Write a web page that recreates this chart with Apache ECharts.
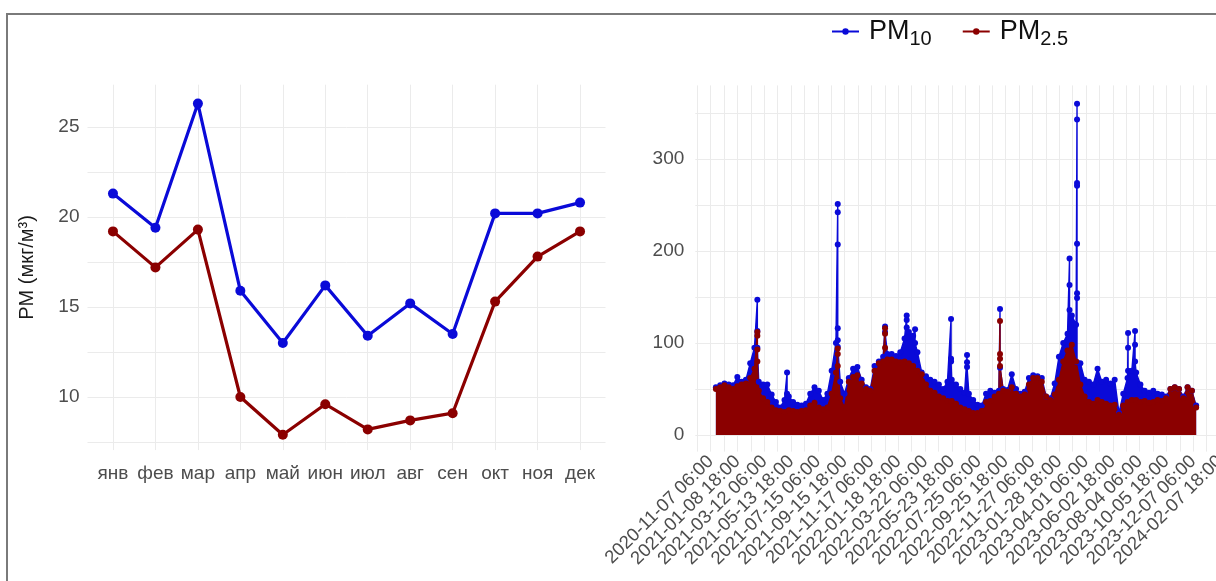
<!DOCTYPE html>
<html>
<head>
<meta charset="utf-8">
<script src="https://cdn.jsdelivr.net/npm/echarts@6/dist/echarts.min.js"></script>
<style>
  html, body { margin: 0; padding: 0; background: #fff; }
  #chart { width: 1216px; height: 581px; }
</style>
</head>
<body>
<div id="chart"></div>
<script>
// left panel: monthly means
const months = ['янв', 'фев', 'мар', 'апр', 'май', 'июн', 'июл', 'авг', 'сен', 'окт', 'ноя', 'дек']
const pm10Monthly = [21.3, 19.4, 26.3, 15.9, 13.0, 16.2, 13.4, 15.2, 13.5, 20.2, 20.2, 20.8]
const pm25Monthly = [19.2, 17.2, 19.3, 10.0, 7.9, 9.6, 8.2, 8.7, 9.1, 15.3, 17.8, 19.2]

// right panel: x is days since 2020-11-07 06:00, one label every 62.5 days
const tickStepDays = 62.5
const tickLabels = [
  '2020-11-07 06:00', '2021-01-08 18:00', '2021-03-12 06:00', '2021-05-13 18:00',
  '2021-07-15 06:00', '2021-09-15 18:00', '2021-11-17 06:00', '2022-01-18 18:00',
  '2022-03-22 06:00', '2022-05-23 18:00', '2022-07-25 06:00', '2022-09-25 18:00',
  '2022-11-27 06:00', '2023-01-28 18:00', '2023-04-01 06:00', '2023-06-02 18:00',
  '2023-08-04 06:00', '2023-10-05 18:00', '2023-12-07 06:00', '2024-02-07 18:00',
]

// upper edge of the dense hourly band, read every 10 days from day 12
const envStartDay = 12
const envStepDays = 10
const pm10Top = [
  52, 54, 56, 55, 54, 63, 58, 60, 78, 95,
  58, 55, 55, 44, 36, 30, 38, 42, 36, 33,
  32, 34, 45, 52, 48, 38, 45, 70, 100, 58,
  45, 62, 72, 74, 60, 52, 50, 75, 80, 85,
  88, 88, 86, 90, 105, 112, 108, 90, 68, 64,
  60, 58, 55, 50, 58, 60, 55, 50, 46, 45,
  38, 33, 32, 45, 48, 46, 48, 50, 49, 66,
  50, 45, 47, 62, 65, 64, 62, 42, 40, 56,
  85, 100, 110, 130, 120, 78, 60, 58, 55, 72,
  58, 60, 56, 60, 24, 45, 62, 70, 68, 55,
  48, 46, 48, 45, 44, 42, 50, 52, 50, 42,
  52, 48, 32,
]
const pm25Top = [
  50, 52, 54, 52, 50, 53, 55, 56, 62, 72,
  48, 40, 36, 30, 27, 26, 25, 27, 26, 25,
  26, 27, 32, 35, 30, 28, 30, 45, 68, 40,
  30, 58, 63, 65, 56, 50, 48, 70, 78, 80,
  82, 82, 80, 79, 80, 78, 75, 70, 66, 55,
  48, 46, 42, 40, 37, 37, 34, 30, 28, 26,
  24, 24, 26, 36, 37, 42, 45, 48, 47, 52,
  45, 42, 44, 55, 62, 62, 58, 42, 38, 44,
  60, 80, 92, 98, 80, 55, 42, 36, 34, 38,
  36, 34, 32, 33, 22, 32, 36, 38, 38, 36,
  37, 35, 36, 38, 37, 40, 50, 52, 50, 40,
  52, 48, 30,
]

// short episodes sticking out of the band: day and the dots along the spike
const pm10SpikeDays = [108.7, 178, 296.2, 406.5, 457, 476.5, 560.4, 597.7, 674.6, 836.7, 854.2, 973.2, 989.5]
const pm10SpikeDots = [
  [147, 113, 95], [68, 45], [251, 242, 207, 116, 103, 96], [118, 112],
  [130, 125, 117, 106], [115, 100], [126, 83, 80], [87, 79, 74], [137, 73],
  [192, 163, 136], [360, 343, 274, 271, 208, 154, 149, 79], [111, 95, 70], [113, 98, 80],
]
const pm25SpikeDays = [108.7, 296.2, 406.5, 674.6]
const pm25SpikeDots = [[112, 108, 93, 80], [94, 88, 75], [116, 110, 95], [124, 88, 83, 75]]

const BLUE = '#0a0ad8'
const RED = '#8b0000'
const FONT = 'Liberation Sans, Arial, sans-serif'
const AXIS_TEXT = '#4d4d4d'
const GRID_LINE = { color: '#ebebeb', width: 1 }

function buildTrack(top, spikeDays, spikeDots) {
  const pts = top.map((v, i) => [envStartDay + i * envStepDays, v])
  spikeDays.forEach((d, j) => {
    spikeDots[j].forEach((v) => pts.push([d, v]))
  })
  return pts.sort((a, b) => a[0] - b[0])
}

function tickLabel(v) {
  const q = v / tickStepDays
  const i = Math.round(q)
  if (Math.abs(q - i) > 1e-6 || i < 0 || i >= tickLabels.length) return ''
  return tickLabels[i]
}

const chart = echarts.init(document.getElementById('chart'))

chart.setOption({
  animation: false,
  backgroundColor: '#fff',
  textStyle: { fontFamily: FONT },
  graphic: [
    {
      type: 'polyline',
      shape: { points: [[7, 581], [7, 14], [1216, 14]] },
      style: { stroke: '#7a7a7a', lineWidth: 2, fill: null },
    },
  ],
  legend: {
    data: ['PM10', 'PM2.5'],
    left: 826,
    top: 13,
    itemWidth: 27,
    itemHeight: 8,
    itemGap: 30,
    formatter: (name) => (name === 'PM10' ? '{m|PM}{s|10}' : '{m|PM}{s|2.5}'),
    textStyle: {
      rich: {
        m: { fontSize: 27, color: '#111', fontFamily: FONT, padding: [0, 0, 0, 5] },
        s: { fontSize: 20, color: '#111', fontFamily: FONT, padding: [16, 0, 0, 0] },
      },
    },
  },
  grid: [
    { left: 87.5, top: 84.7, width: 518, height: 365.4, outerBoundsMode: 'none' },
    { left: 695.3, top: 85.4, width: 538.6, height: 366.2, outerBoundsMode: 'none' },
  ],
  xAxis: [
    {
      gridIndex: 0,
      type: 'value',
      min: 0.4,
      max: 12.6,
      minInterval: 1,
      maxInterval: 1,
      axisLine: { show: false },
      axisTick: { show: false },
      splitLine: { show: true, showMinLine: false, showMaxLine: false, lineStyle: GRID_LINE },
      axisLabel: {
        margin: 14,
        fontSize: 19,
        color: AXIS_TEXT,
        showMinLabel: false,
        showMaxLabel: false,
        formatter: (v) => (Number.isInteger(v) ? months[v - 1] : ''),
      },
    },
    {
      gridIndex: 1,
      type: 'value',
      min: -36,
      max: 1220,
      minInterval: 31.25,
      maxInterval: 31.25,
      axisLine: { show: false },
      axisTick: { show: false },
      splitLine: { show: true, showMinLine: false, showMaxLine: false, lineStyle: GRID_LINE },
      axisLabel: {
        rotate: 45,
        margin: 7,
        fontSize: 18.5,
        color: AXIS_TEXT,
        showMinLabel: false,
        showMaxLabel: false,
        formatter: tickLabel,
      },
    },
  ],
  yAxis: [
    {
      gridIndex: 0,
      type: 'value',
      min: 7.05,
      max: 27.35,
      minInterval: 2.5,
      maxInterval: 2.5,
      name: 'PM (мкг/м³)',
      nameLocation: 'middle',
      nameGap: 50,
      nameTextStyle: { fontSize: 20, color: '#1a1a1a' },
      axisLine: { show: false },
      axisTick: { show: false },
      splitLine: { show: true, showMinLine: false, showMaxLine: false, lineStyle: GRID_LINE },
      axisLabel: {
        margin: 8,
        fontSize: 19,
        color: AXIS_TEXT,
        showMinLabel: false,
        showMaxLabel: false,
        formatter: (v) => (Math.abs(v % 5) < 1e-9 ? String(v) : ''),
      },
    },
    {
      gridIndex: 1,
      type: 'value',
      min: -18,
      max: 380,
      minInterval: 50,
      maxInterval: 50,
      axisLine: { show: false },
      axisTick: { show: false },
      splitLine: { show: true, showMinLine: false, showMaxLine: false, lineStyle: GRID_LINE },
      axisLabel: {
        margin: 11,
        fontSize: 19,
        color: AXIS_TEXT,
        showMinLabel: false,
        showMaxLabel: false,
        formatter: (v) => (v >= 0 && v % 100 === 0 ? String(v) : ''),
      },
    },
  ],
  series: [
    {
      name: 'PM10',
      type: 'line',
      xAxisIndex: 1,
      yAxisIndex: 1,
      data: buildTrack(pm10Top, pm10SpikeDays, pm10SpikeDots),
      symbol: 'circle',
      symbolSize: 6,
      showAllSymbol: true,
      lineStyle: { color: BLUE, width: 1.4 },
      itemStyle: { color: BLUE },
      areaStyle: { color: BLUE, opacity: 1 },
      emphasis: { disabled: true },
    },
    {
      name: 'PM2.5',
      type: 'line',
      xAxisIndex: 1,
      yAxisIndex: 1,
      data: buildTrack(pm25Top, pm25SpikeDays, pm25SpikeDots),
      symbol: 'circle',
      symbolSize: 6,
      showAllSymbol: true,
      lineStyle: { color: RED, width: 1.4 },
      itemStyle: { color: RED },
      areaStyle: { color: RED, opacity: 1 },
      emphasis: { disabled: true },
    },
    {
      name: 'PM10 по месяцам',
      type: 'line',
      xAxisIndex: 0,
      yAxisIndex: 0,
      data: pm10Monthly.map((v, i) => [i + 1, v]),
      symbol: 'circle',
      symbolSize: 10,
      lineStyle: { color: BLUE, width: 3.2 },
      itemStyle: { color: BLUE },
      emphasis: { disabled: true },
    },
    {
      name: 'PM2.5 по месяцам',
      type: 'line',
      xAxisIndex: 0,
      yAxisIndex: 0,
      data: pm25Monthly.map((v, i) => [i + 1, v]),
      symbol: 'circle',
      symbolSize: 10,
      lineStyle: { color: RED, width: 3.2 },
      itemStyle: { color: RED },
      emphasis: { disabled: true },
    },
  ],
})
</script>
</body>
</html>
